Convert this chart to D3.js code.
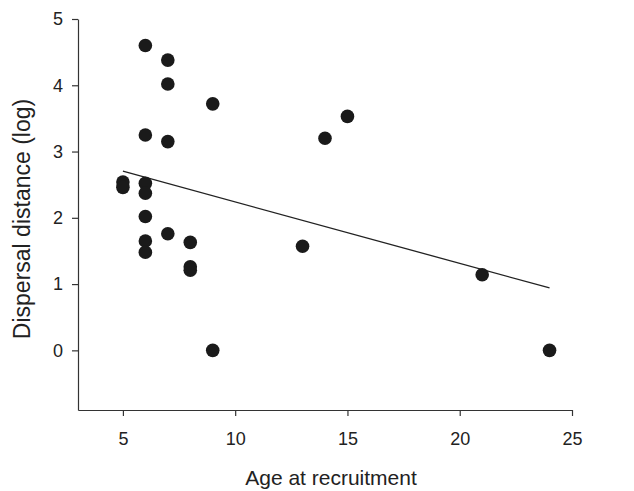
<!DOCTYPE html>
<html>
<head>
<meta charset="utf-8">
<script src="https://cdn.jsdelivr.net/npm/d3@7"></script>
<style>
  body { margin: 0; background: #fff; }
  svg { font-family: "Liberation Sans", Arial, sans-serif; }
</style>
</head>
<body>
<div id="chart"></div>
<script>
// Datos
var ages = [5, 5, 6, 6, 6, 6, 6, 6, 6, 7, 7, 7, 7, 8, 8, 8, 9, 9, 13, 14, 15, 21, 24];
var distances = [2.54, 2.46, 4.60, 3.25, 2.52, 2.37, 2.02, 1.65, 1.48, 4.38, 4.02, 3.15, 1.76, 1.63, 1.26, 1.21, 3.72, 0, 1.57, 3.20, 3.53, 1.14, 0];
var xTicks = [5, 10, 15, 20, 25];
var yTicks = [0, 1, 2, 3, 4, 5];

var width = 634, height = 491;
var margin = {top: 19, right: 62, bottom: 81, left: 78};

var svg = d3.select("#chart").append("svg")
  .attr("width", width)
  .attr("height", height);

var x = d3.scaleLinear().domain([3, 25]).range([margin.left, width - margin.right]);
var y = d3.scaleLinear().domain([-0.9, 5]).range([height - margin.bottom, margin.top]);

var data = ages.map(function(a, i) { return {x: a, y: distances[i]}; });

// Ejes
svg.append("g")
  .attr("transform", "translate(0," + (height - margin.bottom) + ")")
  .call(d3.axisBottom(x).tickValues(xTicks).tickFormat(d3.format("d")).tickSize(6).tickPadding(16).tickSizeOuter(0));

svg.append("g")
  .attr("transform", "translate(" + margin.left + ",0)")
  .call(d3.axisLeft(y).tickValues(yTicks).tickFormat(d3.format("d")).tickSize(6).tickPadding(9).tickSizeOuter(0));

svg.selectAll(".domain, .tick line").attr("stroke", "#333").attr("stroke-width", 1.2);
svg.selectAll(".tick text").attr("fill", "#222").style("font-size", "18px");

// Línea de regresión (mínimos cuadrados)
var mx = d3.mean(ages), my = d3.mean(distances);
var sxy = d3.sum(data, function(d) { return (d.x - mx) * (d.y - my); });
var sxx = d3.sum(data, function(d) { return (d.x - mx) * (d.x - mx); });
var slope = sxy / sxx, icpt = my - slope * mx;
var xr = d3.extent(ages);

svg.append("line")
  .attr("x1", x(xr[0])).attr("y1", y(icpt + slope * xr[0]))
  .attr("x2", x(xr[1])).attr("y2", y(icpt + slope * xr[1]))
  .attr("stroke", "#222")
  .attr("stroke-width", 1.3);

// Puntos
svg.selectAll("circle")
  .data(data)
  .enter()
  .append("circle")
  .attr("cx", function(d) { return x(d.x); })
  .attr("cy", function(d) { return y(d.y); })
  .attr("r", 6.8)
  .attr("fill", "#1a1a1a");

// Títulos
svg.append("text")
  .attr("x", 331)
  .attr("y", 485)
  .attr("text-anchor", "middle")
  .style("font-size", "21px")
  .attr("fill", "#222")
  .text("Age at recruitment");

svg.append("text")
  .attr("transform", "translate(30,219) rotate(-90)")
  .attr("text-anchor", "middle")
  .style("font-size", "23px")
  .attr("fill", "#222")
  .text("Dispersal distance (log)");
</script>
</body>
</html>
